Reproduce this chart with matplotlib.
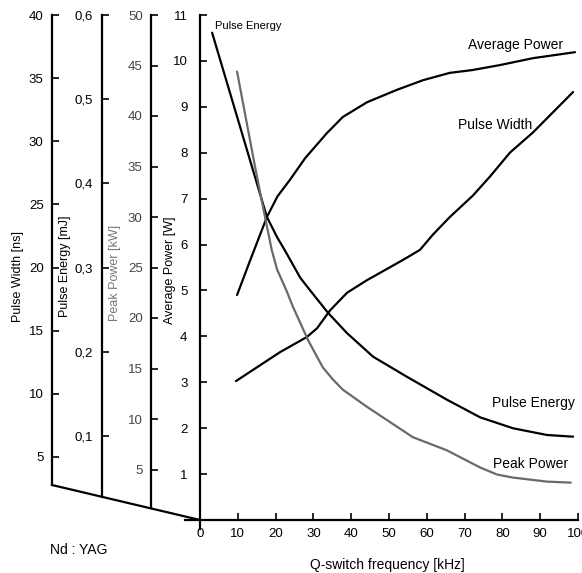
import matplotlib
matplotlib.use("Agg")
import matplotlib.pyplot as plt

plt.rcParams['font.family'] = ['Liberation Sans', 'DejaVu Sans']

# Q-switch frequency [kHz] and values
freq_energy = [3.2, 17.7, 20.4, 22.5, 26.5, 29.1, 33.9, 38.9, 45.8, 54.8, 65.3, 74.1, 82.8, 91.8, 98.7]
pulse_energy = [0.579, 0.360, 0.336, 0.320, 0.288, 0.273, 0.246, 0.222, 0.194, 0.170, 0.143, 0.122, 0.109, 0.101, 0.099]

freq_peak = [9.8, 14.6, 17.2, 19.0, 20.4, 23.0, 24.6, 28.6, 32.5, 35.2, 37.8, 44.2, 56.3, 65.3, 74.1, 78.6, 82.8, 91.8, 98.1]
peak_power = [44.4, 34.9, 30.0, 26.7, 24.8, 22.6, 21.1, 17.8, 15.1, 13.9, 12.9, 11.2, 8.2, 6.9, 5.2, 4.5, 4.2, 3.8, 3.7]

freq_avg = [9.8, 13.2, 17.7, 20.5, 23.8, 27.8, 33.6, 37.8, 44.2, 52.1, 59.0, 66.1, 72.0, 79.4, 88.1, 99.2]
avg_power = [4.90, 5.64, 6.60, 7.05, 7.41, 7.88, 8.43, 8.78, 9.10, 9.37, 9.58, 9.74, 9.80, 9.91, 10.06, 10.19]

freq_width = [9.5, 21.2, 28.3, 31.0, 34.4, 38.9, 44.2, 53.7, 58.2, 61.6, 66.1, 72.2, 76.7, 82.0, 88.1, 98.7]
pulse_width = [11.0, 13.3, 14.5, 15.2, 16.6, 18.0, 19.0, 20.6, 21.4, 22.6, 24.0, 25.7, 27.2, 29.1, 30.7, 33.9]

freq_ticks = list(range(0, 101, 10))
width_ticks = [5, 10, 15, 20, 25, 30, 35, 40]
energy_ticks = [0.1, 0.2, 0.3, 0.4, 0.5, 0.6]
energy_labels = ['0,1', '0,2', '0,3', '0,4', '0,5', '0,6']
peak_ticks = [5, 10, 15, 20, 25, 30, 35, 40, 45, 50]
avg_ticks = list(range(1, 12))

W, H = 582, 573
fig = plt.figure(figsize=(W / 100, H / 100), dpi=100)
ax = fig.add_axes([200 / W, 53 / H, 378 / W, 505 / H])

lw = 1.6
gray = '#6a6a6a'

ax.set_xlim(0, 100)
ax.set_ylim(0, 11)
for s in ['top', 'right']:
    ax.spines[s].set_visible(False)
for s in ['left', 'bottom']:
    ax.spines[s].set_linewidth(lw)
ax.set_xticks(freq_ticks)
ax.set_yticks(avg_ticks)
ax.tick_params(direction='in', length=5, width=1.2, labelsize=9.5, pad=6)
ax.tick_params(axis='y', pad=9)

# slanted base line joining the foot of the left axes
x_pw, x_pe, x_pp = (52 - 200) / 378, (101.7 - 200) / 378, (151 - 200) / 378
y_pw = (520 - 485) / 505


def foot(xa):
    return y_pw * xa / x_pw


ax.plot([x_pw, 0], [y_pw, 0], color='black', lw=lw, transform=ax.transAxes, clip_on=False)
ax.plot([0, 0], [0, -0.018], color='black', lw=lw, transform=ax.transAxes, clip_on=False)
ax.plot([-0.04, 0], [0, 0], color='black', lw=lw, transform=ax.transAxes, clip_on=False)


def side_axis(xa, top, ticks, labels, color='black'):
    tw = ax.twinx()
    tw.set_ylim(0, top)
    for s in ['top', 'right', 'bottom']:
        tw.spines[s].set_visible(False)
    tw.spines['left'].set_visible(True)
    tw.spines['left'].set_position(('axes', xa))
    tw.spines['left'].set_bounds(foot(xa) * top, top)
    tw.spines['left'].set_linewidth(lw)
    tw.yaxis.set_ticks_position('left')
    tw.set_yticks(ticks)
    tw.set_yticklabels(labels)
    tw.tick_params(axis='y', direction='in', length=5, width=1.2, labelsize=9.5,
                   pad=6, labelcolor=color)
    return tw


tw_pw = side_axis(x_pw, 40, width_ticks, [str(t) for t in width_ticks])
tw_pe = side_axis(x_pe, 0.6, energy_ticks, energy_labels)
tw_pp = side_axis(x_pp, 50, peak_ticks, [str(t) for t in peak_ticks], color='#444444')

style = dict(lw=lw, solid_joinstyle='round', solid_capstyle='round')
tw_pe.plot(freq_energy, pulse_energy, color='black', **style)
tw_pp.plot(freq_peak, peak_power, color=gray, **style)
ax.plot(freq_avg, avg_power, color='black', **style)
tw_pw.plot(freq_width, pulse_width, color='black', **style)


def ftext(px, py, s, **kw):
    fig.text(px / W, 1 - py / H, s, **kw)


ftext(18, 276, 'Pulse Width [ns]', rotation=90, ha='center', va='center', fontsize=9)
ftext(65, 266, 'Pulse Energy [mJ]', rotation=90, ha='center', va='center', fontsize=9)
ftext(115, 273, 'Peak Power [kW]', rotation=90, ha='center', va='center', fontsize=9, color='#777777')
ftext(170, 270, 'Average Power [W]', rotation=90, ha='center', va='center', fontsize=9)

ftext(468, 45, 'Average Power', ha='left', va='center', fontsize=10)
ftext(458, 125, 'Pulse Width', ha='left', va='center', fontsize=10)
ftext(492, 403, 'Pulse Energy', ha='left', va='center', fontsize=10)
ftext(493, 464, 'Peak Power', ha='left', va='center', fontsize=10)
ftext(215, 26, 'Pulse Energy', ha='left', va='center', fontsize=8)
ftext(50, 550, 'Nd : YAG', ha='left', va='center', fontsize=10)
ftext(387, 565, 'Q-switch frequency [kHz]', ha='center', va='center', fontsize=10)

fig.savefig('out.png', dpi=100)
